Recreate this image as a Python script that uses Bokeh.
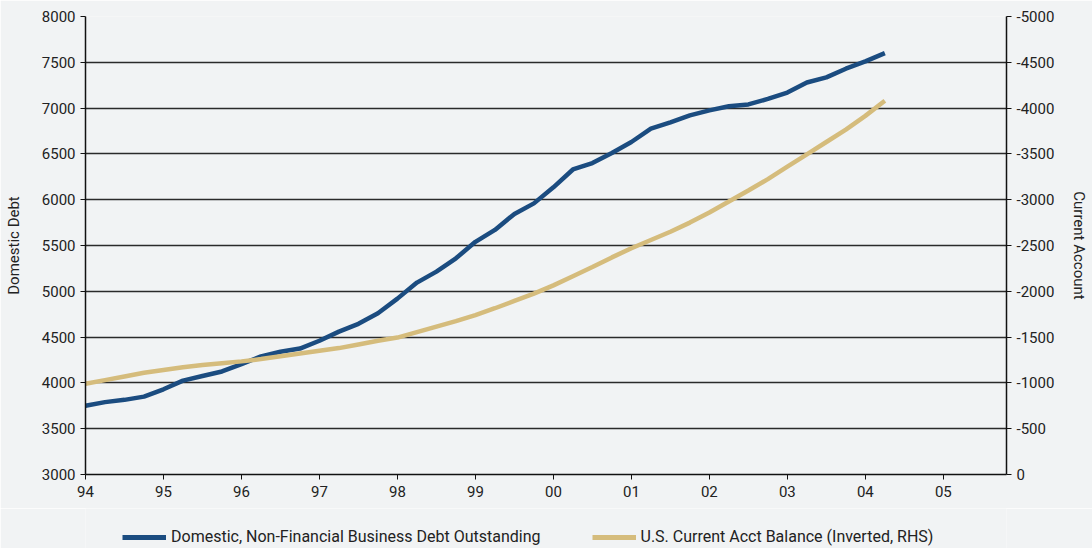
from bokeh.plotting import figure
from bokeh.layouts import column
from bokeh.models import Range1d, LinearAxis, Legend, LegendItem, FixedTicker
from bokeh.embed import file_html
from bokeh.resources import INLINE

# ---- data (quarterly, 1994Q1 .. 2004Q2) ----
quarters = [f"{y}Q{q}" for y in range(1994, 2005) for q in range(1, 5)][:42]
debt = [3750, 3790, 3815, 3850, 3930, 4025, 4075, 4125, 4205, 4290, 4340, 4375,
        4460, 4560, 4645, 4760, 4920, 5095, 5215, 5360, 5540, 5670, 5845, 5960,
        6135, 6330, 6400, 6510, 6630, 6775, 6845, 6920, 6975, 7020, 7040, 7100,
        7170, 7280, 7335, 7430, 7510, 7600]
current_acct = [-990, -1030, -1070, -1110, -1140, -1170, -1195, -1215, -1235, -1260,
                -1290, -1320, -1350, -1380, -1420, -1460, -1495, -1555, -1615, -1675,
                -1740, -1815, -1895, -1975, -2065, -2165, -2265, -2370, -2470, -2560,
                -2650, -2750, -2860, -2980, -3100, -3225, -3360, -3495, -3630, -3765,
                -3915, -4080]
year_ticks = [1994, 1995, 1996, 1997, 1998, 1999, 2000, 2001, 2002, 2003, 2004, 2005]
year_labels = ["94", "95", "96", "97", "98", "99", "00", "01", "02", "03", "04", "05"]
left_ticks = [3000, 3500, 4000, 4500, 5000, 5500, 6000, 6500, 7000, 7500, 8000]
right_ticks = [0, -500, -1000, -1500, -2000, -2500, -3000, -3500, -4000, -4500, -5000]
right_labels = ["0", "-500", "-1000", "-1500", "-2000", "-2500", "-3000", "-3500",
                "-4000", "-4500", "-5000"]
series_names = ["Domestic, Non-Financial Business Debt Outstanding",
                "U.S. Current Acct Balance (Inverted, RHS)"]
series_colors = ["#1b4c80", "#d5bc7c"]

x = [int(s[:4]) + (int(s[-1]) - 1) * 0.25 for s in quarters]

FONT = "Roboto"
BG = "#f1f3f4"
TXT = "#222222"

p = figure(width=1092, height=508, output_backend="svg", toolbar_location=None,
           x_range=Range1d(1994, 2005.81), y_range=Range1d(3000, 8000),
           min_border_left=85, min_border_right=86, min_border_top=16, min_border_bottom=34)
p.background_fill_color = BG
p.border_fill_color = BG
p.outline_line_color = None

p.extra_y_ranges = {"ca": Range1d(0, -5000)}
ra = LinearAxis(y_range_name="ca", axis_label="Current Account")
p.add_layout(ra, "right")

for ax in p.yaxis + p.xaxis:
    ax.major_label_text_font = FONT
    ax.major_label_text_font_size = "15px"
    ax.major_label_text_color = TXT
    ax.axis_label_text_font = FONT
    ax.axis_label_text_font_size = "15px"
    ax.axis_label_text_font_style = "normal"
    ax.axis_label_text_color = TXT
    ax.axis_line_color = "#111111"
    ax.axis_line_width = 1.5
    ax.major_tick_line_color = "#111111"
    ax.major_tick_in = 0
    ax.major_tick_out = 5
    ax.minor_tick_line_color = None

p.yaxis[0].ticker = FixedTicker(ticks=left_ticks)
p.yaxis[0].axis_label = "Domestic Debt"
p.yaxis[0].axis_label_standoff = 16
p.yaxis[0].major_label_standoff = 5
ra.ticker = FixedTicker(ticks=right_ticks)
ra.major_label_overrides = {t: l for t, l in zip(right_ticks, right_labels)}
ra.axis_label_standoff = 13
ra.major_label_standoff = 5
p.xaxis.ticker = FixedTicker(ticks=year_ticks)
p.xaxis.major_label_overrides = {t: l for t, l in zip(year_ticks, year_labels)}
p.xaxis.major_label_standoff = 6

p.xgrid.grid_line_color = None
p.ygrid.ticker = FixedTicker(ticks=left_ticks)
p.ygrid.grid_line_color = "#2a2a2a"
p.ygrid.grid_line_width = 1.4

p.line(x, debt, line_color=series_colors[0], line_width=4.5)
p.line(x, current_acct, y_range_name="ca", line_color=series_colors[1], line_width=4.5)

# ---- legend strip below the chart (its lines lie outside its own view) ----
lf = figure(width=1092, height=40, output_backend="svg", toolbar_location=None,
            x_range=Range1d(0, 1), y_range=Range1d(0, 1),
            x_axis_type=None, y_axis_type=None, min_border=0)
lf.background_fill_color = BG
lf.border_fill_color = BG
lf.outline_line_color = None
lf.xgrid.visible = False
lf.ygrid.visible = False
items = []
for name, col, ys in zip(series_names, series_colors, [debt, current_acct]):
    r = lf.line(x, ys, line_color=col, line_width=5)
    items.append(LegendItem(label=name, renderers=[r]))

legend = Legend(items=items, orientation="horizontal", location=(37, 2))
legend.background_fill_alpha = 0
legend.border_line_color = None
legend.label_text_font = FONT
legend.label_text_font_size = "16px"
legend.label_text_color = TXT
legend.glyph_width = 44
legend.glyph_height = 16
legend.label_height = 16
legend.label_standoff = 5
legend.spacing = 51
legend.padding = 0
legend.margin = 0
lf.add_layout(legend, "center")

open("out.html", "w").write(file_html(column(p, lf, spacing=0), INLINE))
